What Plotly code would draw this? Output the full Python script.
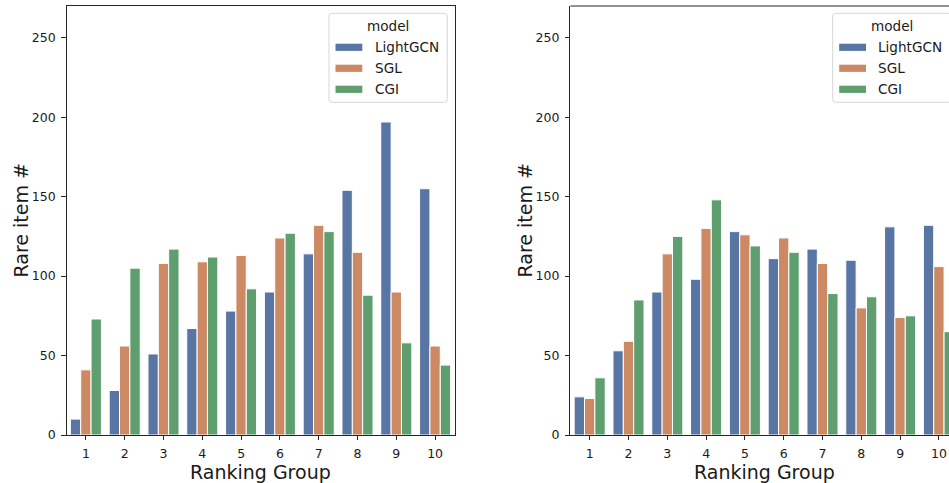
import plotly.graph_objects as go

# ---------------- data ----------------
groups = ["1", "2", "3", "4", "5", "6", "7", "8", "9", "10"]
models = ["LightGCN", "SGL", "CGI"]

left_lightgcn = [10, 28, 51, 67, 78, 90, 114, 154, 197, 155]
left_sgl = [41, 56, 108, 109, 113, 124, 132, 115, 90, 56]
left_cgi = [73, 105, 117, 112, 92, 127, 128, 88, 58, 44]

right_lightgcn = [24, 53, 90, 98, 128, 111, 117, 110, 131, 132]
right_sgl = [23, 59, 114, 130, 126, 124, 108, 80, 74, 106]
right_cgi = [36, 85, 125, 148, 119, 115, 89, 87, 75, 65]

y_ticks = [0, 50, 100, 150, 200, 250]
colors = ["#5975a4", "#cc8963", "#5f9e6e"]

# ---------------- layout helpers ----------------
W, H = 949, 483
FONT = "DejaVu Sans"
TXT = "#1a1a1a"
SPINE = "#262626"


def px(x):
    return x / W


def py(y):
    return 1 - y / H


fig = go.Figure()

left_series = [left_lightgcn, left_sgl, left_cgi]
right_series = [right_lightgcn, right_sgl, right_cgi]

for name, vals, col in zip(models, left_series, colors):
    fig.add_trace(go.Bar(x=groups, y=vals, name=name, marker_color=col,
                         marker_line=dict(color="white", width=1),
                         xaxis="x", yaxis="y", showlegend=False))
for name, vals, col in zip(models, right_series, colors):
    fig.add_trace(go.Bar(x=groups, y=vals, name=name, marker_color=col,
                         marker_line=dict(color="white", width=1),
                         xaxis="x2", yaxis="y2", showlegend=False))

# plot geometry (pixels)
L1, R1 = 66.5, 454.5
L2 = 570.3
step = (R1 - L1) / 10.0
TOP, BOT = 6.0, 435.0

axis_common = dict(
    showline=True, linecolor=SPINE, linewidth=1,
    ticks="outside", ticklen=4.4, tickwidth=1, tickcolor=SPINE,
    tickfont=dict(family=FONT, size=12.5, color=TXT),
    ticklabelstandoff=3,
    showgrid=False, zeroline=False, fixedrange=True,
)

fig.update_layout(
    width=W, height=H,
    margin=dict(l=0, r=0, t=0, b=0, autoexpand=False),
    paper_bgcolor="white", plot_bgcolor="white",
    barmode="group", bargap=0.2, bargroupgap=0,
    showlegend=False,
    xaxis=dict(domain=[px(L1), px(R1)], range=[-0.5, 9.5], mirror=True,
               type="category", anchor="y", **axis_common),
    yaxis=dict(domain=[py(BOT), py(TOP)], range=[0, 270], mirror=True,
               tickvals=y_ticks, anchor="x", **axis_common),
    xaxis2=dict(domain=[px(L2), 1.0], range=[-0.5, -0.5 + (W - L2) / step],
                mirror=False, type="category", anchor="y2", **axis_common),
    yaxis2=dict(domain=[py(BOT), py(TOP)], range=[0, 270], mirror=False,
                tickvals=y_ticks, anchor="x2", **axis_common),
)

# top spine for right plot (no right spine: cut off)
fig.add_shape(type="line", xref="paper", yref="paper",
              x0=px(L2), x1=1.0, y0=py(TOP), y1=py(TOP),
              line=dict(color=SPINE, width=1))

annotations = []
# axis titles
for cx in [(L1 + R1) / 2, L2 + 5 * step]:
    annotations.append(dict(text="Ranking Group", xref="paper", yref="paper",
                            x=px(cx), y=py(472), xanchor="center", yanchor="middle",
                            showarrow=False, borderpad=0,
                            font=dict(family=FONT, size=19, color=TXT)))
for cx in [20, 524]:
    annotations.append(dict(text="Rare item #", xref="paper", yref="paper",
                            x=px(cx), y=py((TOP + BOT) / 2), xanchor="center", yanchor="middle",
                            textangle=-90, showarrow=False, borderpad=0,
                            font=dict(family=FONT, size=19, color=TXT)))


def rounded_rect_path(x0, y0, x1, y1, r):
    pts = [
        ("M", x0 + r, y0), ("L", x1 - r, y0), ("Q", x1, y0, x1, y0 + r),
        ("L", x1, y1 - r), ("Q", x1, y1, x1 - r, y1), ("L", x0 + r, y1),
        ("Q", x0, y1, x0, y1 - r), ("L", x0, y0 + r), ("Q", x0, y0, x0 + r, y0),
    ]
    s = ""
    for p in pts:
        cmd = p[0]
        coords = p[1:]
        conv = []
        for i in range(0, len(coords), 2):
            conv.append(f"{px(coords[i]):.5f},{py(coords[i + 1]):.5f}")
        s += cmd + " ".join(conv) + " "
    return s + "Z"


def add_legend(bx0):
    bx1 = bx0 + 118.3
    by0, by1 = 13.3, 102.3
    fig.add_shape(type="path", xref="paper", yref="paper",
                  path=rounded_rect_path(bx0, by0, bx1, by1, 3),
                  fillcolor="rgba(255,255,255,0.8)",
                  line=dict(color="#d6d6d6", width=1))
    annotations.append(dict(text="model", xref="paper", yref="paper",
                            x=px(bx0 + 59.2), y=py(26), xanchor="center", yanchor="middle",
                            showarrow=False, font=dict(family=FONT, size=13.6, color=TXT)))
    for i, (name, col) in enumerate(zip(models, colors)):
        cy = 47.3 + i * 21
        fig.add_shape(type="rect", xref="paper", yref="paper",
                      x0=px(bx0 + 6.5), x1=px(bx0 + 33.3),
                      y0=py(cy - 3.6), y1=py(cy + 3.6),
                      fillcolor=col, line=dict(width=0))
        annotations.append(dict(text=name, xref="paper", yref="paper",
                                x=px(bx0 + 43.5), y=py(cy), xanchor="left", yanchor="middle",
                                showarrow=False, font=dict(family=FONT, size=13.6, color=TXT)))


add_legend(329.0)
add_legend(832.7)

fig.update_layout(annotations=annotations)

fig.write_html("out.html")
